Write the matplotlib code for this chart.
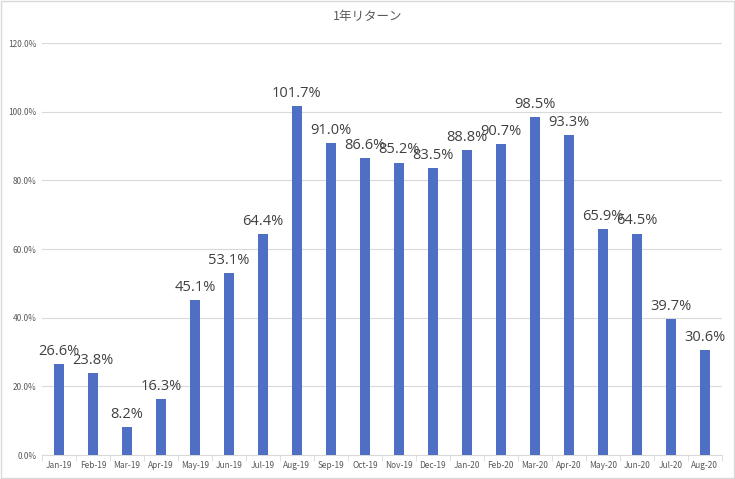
import matplotlib.pyplot as plt
from matplotlib.ticker import PercentFormatter
from matplotlib.patches import Rectangle

plt.rcParams['font.family'] = ['Noto Sans CJK JP', 'DejaVu Sans']

months = ['Jan-19', 'Feb-19', 'Mar-19', 'Apr-19', 'May-19', 'Jun-19', 'Jul-19',
          'Aug-19', 'Sep-19', 'Oct-19', 'Nov-19', 'Dec-19', 'Jan-20', 'Feb-20',
          'Mar-20', 'Apr-20', 'May-20', 'Jun-20', 'Jul-20', 'Aug-20']
returns = [26.6, 23.8, 8.2, 16.3, 45.1, 53.1, 64.4, 101.7, 91.0, 86.6, 85.2,
           83.5, 88.8, 90.7, 98.5, 93.3, 65.9, 64.5, 39.7, 30.6]
yticks = [0, 20, 40, 60, 80, 100, 120]

fig = plt.figure(figsize=(7.35, 4.79), dpi=100)
ax = fig.add_axes([0.057, 0.050, 0.925, 0.860])

x = range(len(months))
ax.bar(x, returns, width=0.3, color='#4E6FC4', zorder=3)
# data labels above each bar
for i, v in zip(x, returns):
    ax.text(i, v + 1.5, f'{v:.1f}%', ha='center', va='bottom', fontsize=10.5,
            color='#404040', family=['Open Sans', 'DejaVu Sans'])

ax.set_xlim(-0.5, len(months) - 0.5)
ax.set_ylim(0, 120)
ax.set_yticks(yticks)
ax.yaxis.set_major_formatter(PercentFormatter(decimals=1))
ax.set_xticks(list(x))
ax.set_xticklabels(months)
ax.tick_params(axis='both', labelsize=6, colors='#595959', length=0, pad=4)
ax.set_xticks([i - 0.5 for i in range(len(months) + 1)], minor=True)
ax.tick_params(axis='x', which='minor', length=4, color='#D9D9D9')
ax.grid(axis='y', color='#D9D9D9', linewidth=0.8, zorder=0)
for s in ['top', 'right', 'left']:
    ax.spines[s].set_visible(False)
ax.spines['bottom'].set_color('#D9D9D9')

fig.text(0.5, 0.965, '1年リターン', ha='center', va='center', fontsize=9, color='#595959')
fig.patches.append(Rectangle((0.002, 0.003), 0.996, 0.994, transform=fig.transFigure,
                             fill=False, edgecolor='#D9D9D9', linewidth=1))

plt.savefig('out.png')
